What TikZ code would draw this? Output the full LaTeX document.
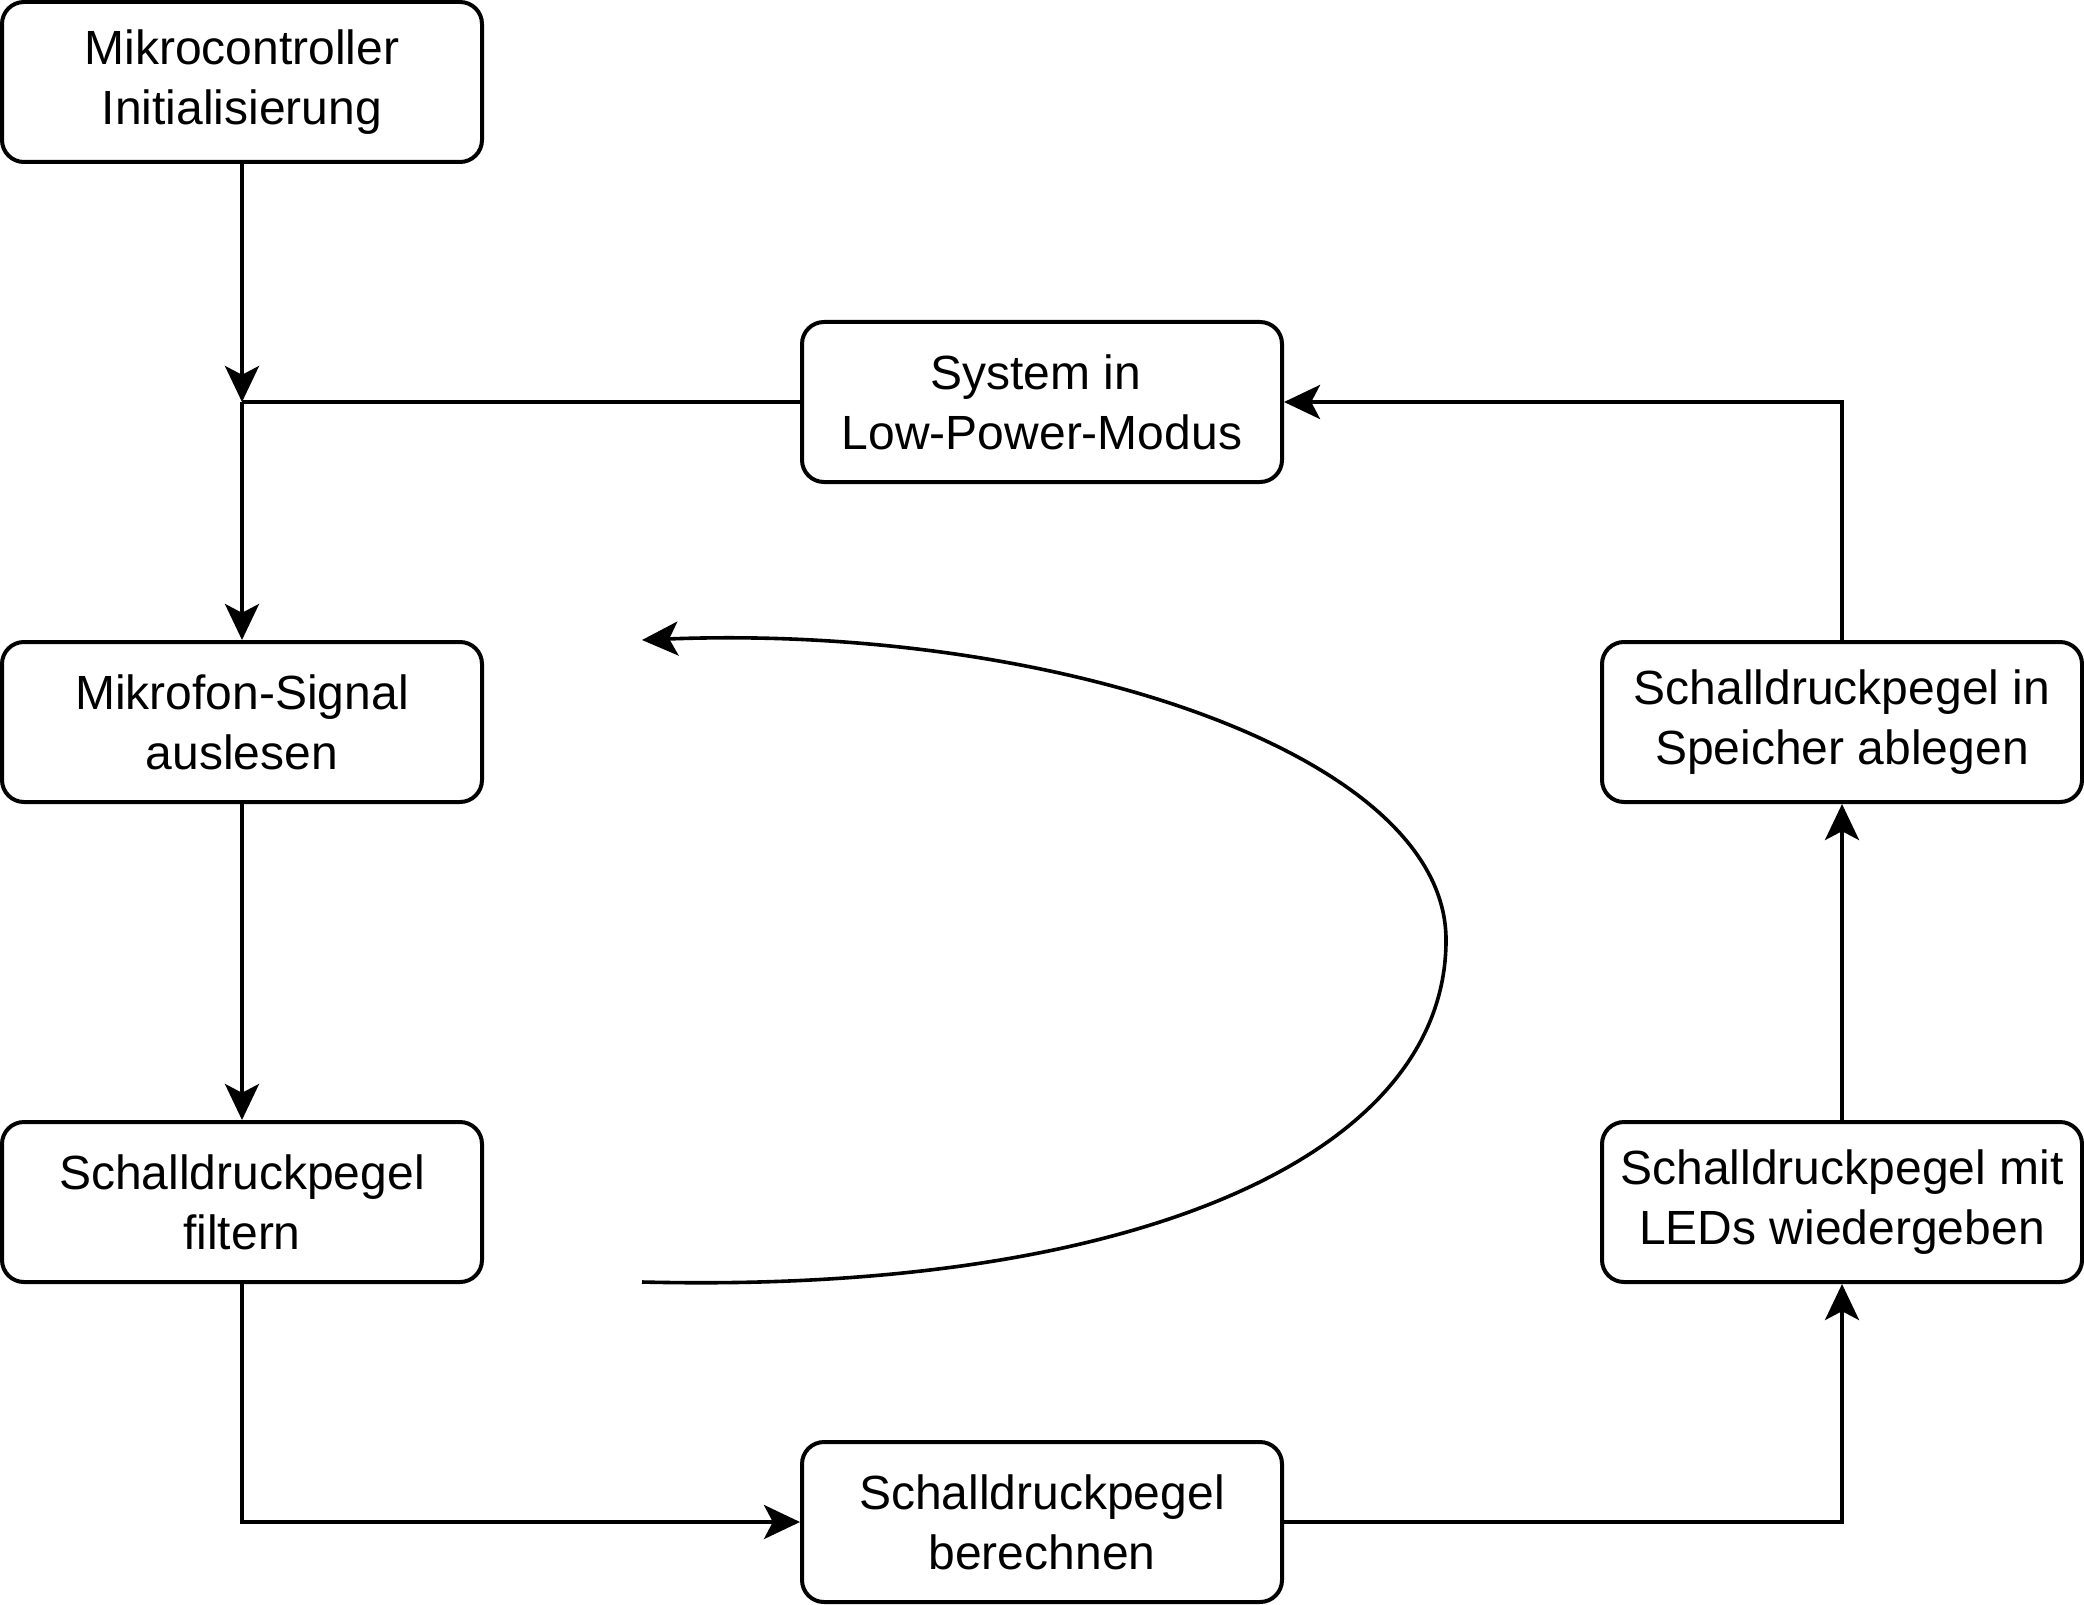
\documentclass[tikz,border=0pt]{standalone}
\usepackage{fontspec}
\setmainfont{Liberation Sans}
\usepackage{tikz}
\usetikzlibrary{arrows.meta, positioning}

\tikzset{
  schritt/.style={draw, line width=1pt, rounded corners=5.5pt, minimum width=120pt,
    minimum height=40pt, align=center, font=\fontsize{12}{15}\selectfont, inner sep=2pt},
  pfeil/.style={line width=1pt, -{Stealth[length=9pt, width=8.5pt, inset=2.2pt]}},
  linie/.style={line width=1pt}
}

\begin{document}
\begin{tikzpicture}[x=0.5pt, y=-0.5pt]
        \useasboundingbox (0,0) rectangle (1042,802);
        % Ablaufschritte
        \node[schritt] (init) at (121,41) {Mikrocontroller\\Initialisierung};
        \node[schritt] (lowpower) at (521,201) {System in\hspace*{3.3pt}\\Low-Power-Modus};
        \node[schritt] (mikro) at (121,361) {Mikrofon-Signal\\auslesen};
        \node[schritt] (filter) at (121,601) {Schalldruckpegel\\filtern};
        \node[schritt] (berechnen) at (521,761) {Schalldruckpegel\\berechnen};
        \node[schritt] (leds) at (921,601) {Schalldruckpegel mit\\LEDs wiedergeben};
        \node[schritt] (speicher) at (921,361) {Schalldruckpegel in\\Speicher ablegen};
        % Zusammenfuehrung
        \coordinate (knoten) at (121,201);
        \draw[pfeil] (init) -- (knoten);
        \draw[linie] (lowpower.west) -- (knoten);
        \draw[pfeil] (knoten) -- (mikro);
        \draw[pfeil] (mikro) -- (filter);
        \draw[pfeil] (filter.south) |- (berechnen.west);
        \draw[pfeil] (berechnen.east) -| (leds.south);
        \draw[pfeil] (leds) -- (speicher);
        \draw[pfeil] (speicher.north) |- (lowpower.east);
        % Schleife
        \coordinate (schleifeA) at (321,641);
        \coordinate (schleifeE) at (321,320);
        \draw[pfeil, line width=0.9pt] (schleifeA) .. controls (562,647) and (723,580) .. (723,470)
          .. controls (723,376) and (524,312) .. (schleifeE);
      \end{tikzpicture}
\end{document}
